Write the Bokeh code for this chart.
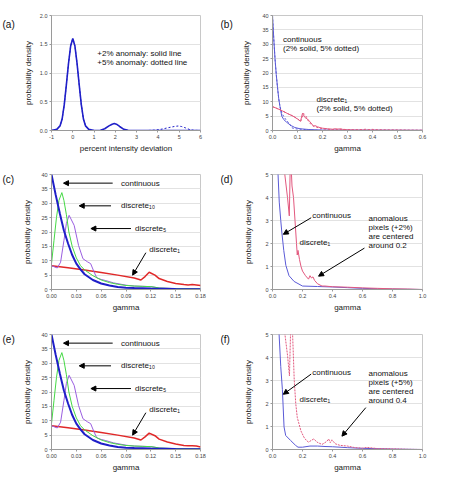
from bokeh.plotting import figure
from bokeh.layouts import column, row
from bokeh.models import Range1d, FixedTicker, Label, Arrow, NormalHead, PrintfTickFormatter
from bokeh.embed import file_html
from bokeh.resources import INLINE

FONT = "Liberation Sans"

# ---------------- data ----------------
# (a) percent intensity deviation distributions
a_x = [-1, -0.75, -0.6, -0.5, -0.4, -0.3, -0.2, -0.1, 0, 0.1, 0.2, 0.3, 0.4, 0.5, 0.6, 0.75, 1.0,
       1.3, 1.5, 1.7, 1.85, 1.95, 2.05, 2.2, 2.4, 2.6, 3.0, 6.0]
a_y2 = [0, 0.02, 0.08, 0.2, 0.45, 0.8, 1.17, 1.47, 1.6, 1.47, 1.17, 0.8, 0.45, 0.2, 0.08, 0.02, 0.0,
        0.005, 0.03, 0.08, 0.11, 0.12, 0.11, 0.07, 0.02, 0.005, 0, 0]
a5_x = [-1, -0.75, -0.6, -0.5, -0.4, -0.3, -0.2, -0.1, 0, 0.1, 0.2, 0.3, 0.4, 0.5, 0.6, 0.75, 1.0,
        3.5, 3.9, 4.2, 4.5, 4.8, 4.95, 5.1, 5.3, 5.5, 5.7, 6.0]
a5_y = [0, 0.02, 0.08, 0.2, 0.45, 0.8, 1.17, 1.47, 1.6, 1.47, 1.17, 0.8, 0.45, 0.2, 0.08, 0.02, 0.0,
        0, 0.008, 0.025, 0.05, 0.072, 0.078, 0.07, 0.045, 0.015, 0.003, 0]

# thin curves (b, d, f): continuous and discrete1, +2% and +5% anomalies
cont2_x = [0, 0.005, 0.01, 0.015, 0.02, 0.025, 0.03, 0.037, 0.045, 0.055, 0.062, 0.075, 0.089, 0.11,
           0.144, 0.2, 0.25, 0.3, 0.4, 0.5, 0.6, 0.7, 0.8, 0.9, 1.0]
cont2_y = [40, 32, 25, 19.5, 15, 11, 8.3, 5, 3.8, 3.0, 2.5, 1.7, 1.05, 0.6,
           0.35, 0.15, 0.14, 0.13, 0.11, 0.08, 0.05, 0.03, 0.02, 0.01, 0.0]
cont5_x = [0, 0.005, 0.01, 0.015, 0.02, 0.025, 0.03, 0.037, 0.044, 0.055, 0.066, 0.077, 0.088, 0.121,
           0.154, 0.17, 0.2, 0.25, 0.3, 0.35, 0.4, 0.5, 0.6, 0.8, 1.0]
cont5_y = [40, 32, 25, 19.5, 15, 11, 8.3, 6.2, 5.0, 3.6, 2.6, 0.98, 0.61, 0.39,
           0.18, 0.1, 0.1, 0.15, 0.15, 0.13, 0.12, 0.08, 0.05, 0.02, 0.0]
disc2_x = [0, 0.02, 0.04, 0.06, 0.082, 0.1, 0.112, 0.12, 0.13, 0.14, 0.15, 0.16, 0.165, 0.17, 0.18,
           0.19, 0.2, 0.22, 0.24, 0.25, 0.26, 0.27, 0.28, 0.3, 0.33, 0.35, 0.4, 0.5, 0.6, 0.7, 0.8,
           0.9, 1.0]
disc2_y = [8.3, 7.6, 6.8, 5.9, 5.0, 4.0, 3.2, 6.0, 4.5, 4.0, 3.0, 2.0, 1.5, 1.7, 1.3,
           1.0, 0.8, 0.6, 0.45, 0.6, 0.5, 0.55, 0.4, 0.25, 0.15, 0.15, 0.12, 0.1, 0.07, 0.05, 0.03,
           0.02, 0.0]
disc5_x = [0, 0.02, 0.04, 0.06, 0.083, 0.1, 0.113, 0.124, 0.134, 0.145, 0.155, 0.165, 0.176, 0.19,
           0.209, 0.225, 0.24, 0.26, 0.275, 0.297, 0.33, 0.35, 0.363, 0.374, 0.385, 0.396, 0.418,
           0.45, 0.5, 0.55, 0.6, 0.63, 0.7, 0.8, 0.9, 1.0]
disc5_y = [8.3, 7.6, 6.8, 5.9, 5.0, 4.1, 3.2, 6.0, 5.0, 3.0, 2.0, 1.4, 1.13, 0.8,
           0.54, 0.4, 0.32, 0.4, 0.46, 0.32, 0.22, 0.3, 0.36, 0.46, 0.3, 0.42, 0.25,
           0.18, 0.15, 0.08, 0.06, 0.09, 0.04, 0.03, 0.01, 0.0]

# bold curves (c, e)
c_cont_x = [0, 0.005, 0.01, 0.015, 0.02, 0.025, 0.03, 0.035, 0.04, 0.05, 0.06, 0.07, 0.08, 0.09,
            0.1, 0.12, 0.15, 0.18]
c_cont_y = [40, 33, 26.5, 20.5, 16, 12, 9, 7, 5.3, 3.3, 2.1, 1.4, 0.9, 0.6,
            0.5, 0.35, 0.2, 0.1]
c_d10_x = [0, 0.003, 0.006, 0.009, 0.0125, 0.015, 0.018, 0.021, 0.025, 0.03, 0.035, 0.04, 0.05,
           0.06, 0.07, 0.08, 0.09, 0.1, 0.11, 0.12, 0.125, 0.13, 0.15, 0.18]
c_d10_y = [9, 17, 25, 31, 33.7, 31, 26, 20, 15, 11, 8.3, 6.8, 4.8,
           3.3, 2.4, 1.8, 1.4, 1.2, 1.1, 1.0, 0.8, 0.5, 0.3, 0.2]
c_d5_x = [0, 0.004, 0.007, 0.011, 0.015, 0.018, 0.0213, 0.0274, 0.0327, 0.038, 0.0436, 0.0473,
          0.051, 0.0546, 0.06, 0.0656, 0.075, 0.09, 0.1, 0.12, 0.13, 0.15, 0.18]
c_d5_y = [8.3, 7.8, 7.5, 9.5, 17, 23, 25.8, 22.3, 15.3, 10.7, 9.6, 9.0,
          6.4, 4.1, 3.5, 3.1, 2.3, 1.5, 1.2, 1.0, 0.5, 0.3, 0.2]
c_d1_x = [0, 0.02, 0.04, 0.06, 0.08, 0.1, 0.108, 0.113, 0.118, 0.125, 0.13, 0.14, 0.15, 0.16,
          0.165, 0.17, 0.175, 0.18]
c_d1_y = [8.3, 7.6, 6.8, 5.9, 5.0, 4.0, 3.3, 4.5, 6.0, 5.0, 3.8, 2.8, 2.1, 1.7,
          1.6, 1.7, 1.6, 1.4]
e_d1_y = [8.3, 7.6, 6.8, 5.9, 5.0, 4.0, 3.3, 4.4, 5.7, 4.8, 3.6, 2.6, 1.9, 1.4,
          1.3, 1.3, 1.2, 0.9]

# axes
a_xticks = [-1, 0, 1, 2, 3, 4, 5, 6]
a_yticks = [0, 0.5, 1.0, 1.5, 2.0]
b_xticks = [0, 0.1, 0.2, 0.3, 0.4, 0.5, 0.6]
big_yticks = [0, 5, 10, 15, 20, 25, 30, 35, 40]
c_xticks = [0, 0.03, 0.06, 0.09, 0.12, 0.15, 0.18]
d_xticks = [0, 0.2, 0.4, 0.6, 0.8, 1.0]
d_yticks = [0, 1, 2, 3, 4, 5]

BLUE_BOLD = "#1f1fc8"
BLUE_THIN = "#5a5ad6"
GREEN = "#45d845"
PURPLE = "#9a5ee0"
RED_BOLD = "#e02828"
RED_THIN = "#e2587e"

# layout sizes (pixels)
WL1, W1, WL2, W2 = 16, 204, 16, 214
H1, H2, H3 = 160, 160, 158


def make_fig(w, h, bl, br, bt, bb, xr, yr, xt, yt, xf, yf, xlabel, ylstand):
    p = figure(width=w, height=h, x_range=Range1d(*xr), y_range=Range1d(*yr),
               min_border_left=bl, min_border_right=br, min_border_top=bt, min_border_bottom=bb,
               output_backend="svg", toolbar_location=None, tools="")
    p.outline_line_color = "#c8c8c8"
    p.xgrid.visible = False
    p.ygrid.grid_line_color = "#e2e2e2"
    p.xaxis.ticker = FixedTicker(ticks=xt)
    p.yaxis.ticker = FixedTicker(ticks=yt)
    p.xaxis.formatter = PrintfTickFormatter(format=xf)
    p.yaxis.formatter = PrintfTickFormatter(format=yf)
    for ax in (p.xaxis[0], p.yaxis[0]):
        ax.axis_line_color = "#9a9a9a"
        ax.major_tick_line_color = "#9a9a9a"
        ax.major_tick_out = 2
        ax.major_tick_in = 0
        ax.minor_tick_line_color = None
        ax.major_label_text_font = FONT
        ax.major_label_text_font_size = "5.5px"
        ax.major_label_text_color = "#444444"
        ax.major_label_standoff = 2
        ax.axis_label_text_font = FONT
        ax.axis_label_text_font_size = "8px"
        ax.axis_label_text_font_style = "normal"
        ax.axis_label_text_color = "#222222"
    p.xaxis.axis_label = xlabel
    p.yaxis.axis_label = "probability density"
    p.xaxis.axis_label_standoff = 2
    p.yaxis.axis_label_standoff = ylstand
    return p


def label_fig(w, h, text, x, y_from_top):
    p = figure(width=w, height=h, x_range=Range1d(0, w), y_range=Range1d(0, h),
               x_axis_type=None, y_axis_type=None, min_border=0,
               output_backend="svg", toolbar_location=None, tools="")
    p.grid.visible = False
    p.outline_line_color = None
    p.add_layout(Label(x=x, y=h - y_from_top, text=text, text_font=FONT, text_font_size="10px",
                       text_baseline="middle", text_align="left", text_color="#111111"))
    return p


def txt(p, x, y, s, size="8px", align="left"):
    p.add_layout(Label(x=x, y=y, text=s, text_font=FONT, text_font_size=size,
                       text_baseline="middle", text_align=align, text_color="#111111"))


def arrow(p, x0, y0, x1, y1):
    p.add_layout(Arrow(end=NormalHead(size=5, fill_color="black", line_color="black", line_width=1),
                       x_start=x0, y_start=y0, x_end=x1, y_end=y1,
                       line_color="black", line_width=1))


# (a)
pa = make_fig(W1, H1, 35, W1 - 35 - 149, 15, 30, (-1, 6), (0, 2), a_xticks, a_yticks, "%d", "%.1f",
              "percent intensity deviation", 4)
pa.line(a5_x, a5_y, color=BLUE_BOLD, line_width=1, line_dash="2 2")
pa.line(a_x, a_y2, color=BLUE_BOLD, line_width=1.6)
txt(pa, 1.15, 1.34, "+2% anomaly: solid line")
txt(pa, 1.15, 1.175, "+5% anomaly: dotted line")

# (b)
pb = make_fig(W2, H1, 36, W2 - 36 - 150, 15, 30, (0, 0.6), (0, 40), b_xticks, big_yticks, "%.1f", "%d",
              "gamma", 8)
pb.line(cont5_x, cont5_y, color=BLUE_THIN, line_width=1, line_dash="2 2")
pb.line(cont2_x, cont2_y, color=BLUE_THIN, line_width=1)
pb.line(disc5_x, disc5_y, color=RED_THIN, line_width=1, line_dash="2 2")
pb.line(disc2_x, disc2_y, color=RED_THIN, line_width=1)
txt(pb, 0.042, 31.6, "continuous")
txt(pb, 0.042, 28.4, "(2% solid, 5% dotted)")
txt(pb, 0.176, 10.7, "discrete\u2081")
txt(pb, 0.176, 7.7, "(2% solid, 5% dotted)")


def bold_panel(h, bt, bb, d1y):
    p = make_fig(W1, h, 35, W1 - 35 - 149, bt, bb, (0, 0.18), (0, 40), c_xticks, big_yticks, "%.2f", "%d",
                 "gamma", 6)
    p.line(c_d1_x, d1y, color=RED_BOLD, line_width=1.5)
    p.line(c_d5_x, c_d5_y, color=PURPLE, line_width=1)
    p.line(c_d10_x, c_d10_y, color=GREEN, line_width=1)
    p.line(c_cont_x, c_cont_y, color=BLUE_BOLD, line_width=2)
    txt(p, 0.084, 37.0, "continuous")
    arrow(p, 0.0739, 37.0, 0.0145, 37.0)
    txt(p, 0.084, 29.1, "discrete\u2081\u2080")
    arrow(p, 0.0719, 29.1, 0.0335, 29.1)
    txt(p, 0.1009, 21.2, "discrete\u2085")
    arrow(p, 0.096, 21.2, 0.0476, 21.2)
    txt(p, 0.118, 13.9, "discrete\u2081")
    arrow(p, 0.114, 12.8, 0.098, 5.0)
    return p


def thin_panel(h, bt, bb, cx, cy, dx, dy, dash, pct, center, ycont, ydisc, yan, arr):
    p = make_fig(W2, h, 36, W2 - 36 - 150, bt, bb, (0, 1), (0, 5), d_xticks, d_yticks, "%.1f", "%d",
                 "gamma", 9)
    p.line(cx, cy, color=BLUE_THIN, line_width=1)
    if dash:
        p.line(dx, dy, color=RED_THIN, line_width=1, line_dash="2 1")
    else:
        p.line(dx, dy, color=RED_THIN, line_width=1)
    txt(p, 0.265, ycont, "continuous")
    arrow(p, 0.258, ycont - 0.08, 0.072, 2.4)
    txt(p, 0.18, ydisc, "discrete\u2081")
    lines = ["anomalous", "pixels (" + pct + ")", "are centered", "around " + center]
    for i, s in enumerate(lines):
        txt(p, 0.64, yan - i * 0.39, s)
    arrow(p, *arr)
    return p


pc = bold_panel(H2, 14, 31, c_d1_y)
pd = thin_panel(H2, 14, 31, cont2_x, cont2_y, disc2_x, disc2_y, False, "+2%", "0.2",
                3.2, 2.06, 3.09, (0.613, 1.80, 0.307, 0.58))
pe = bold_panel(H3, 14, 29, e_d1_y)
pf = thin_panel(H3, 14, 29, cont5_x, cont5_y, disc5_x, disc5_y, True, "+5%", "0.4",
                3.36, 2.19, 3.29, (0.622, 1.82, 0.463, 0.58))

la = label_fig(WL1, H1, "(a)", 2, 12)
lb = label_fig(WL2, H1, "(b)", 0, 12)
lc = label_fig(WL1, H2, "(c)", 2, 7)
ld = label_fig(WL2, H2, "(d)", 0, 7)
le = label_fig(WL1, H3, "(e)", 2, 7)
lf = label_fig(WL2, H3, "(f)", 0, 7)

layout = column(row(la, pa, lb, pb), row(lc, pc, ld, pd), row(le, pe, lf, pf))
open("out.html", "w").write(file_html(layout, INLINE))
